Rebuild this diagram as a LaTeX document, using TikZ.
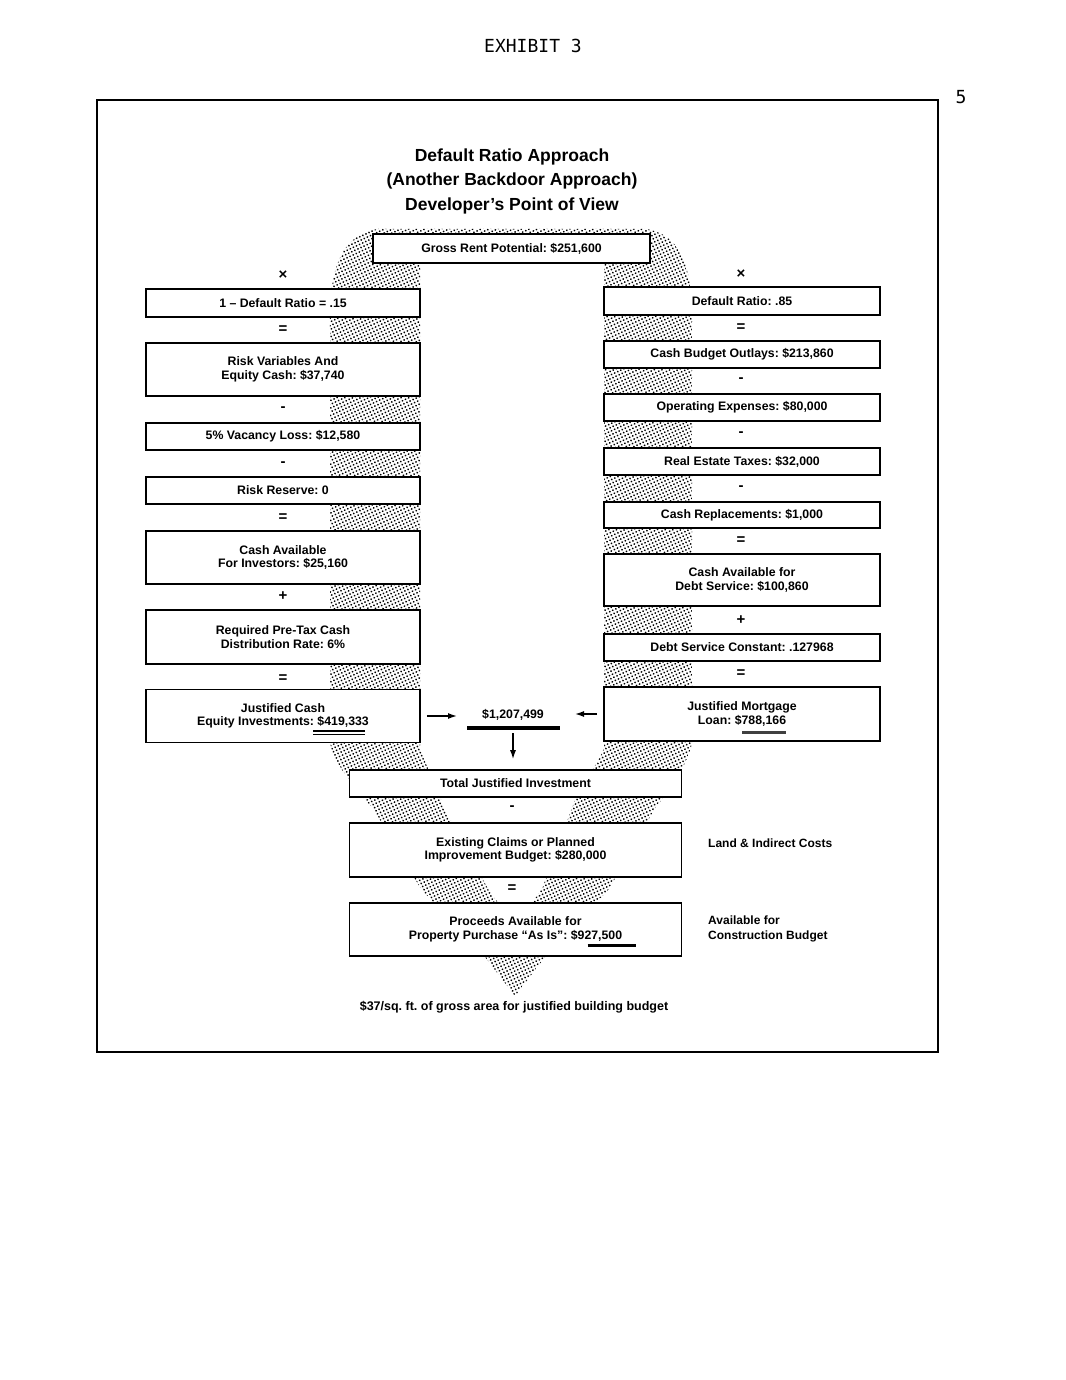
\documentclass[tikz,border=0pt]{standalone}
\usepackage{fontspec}
\setmainfont{Liberation Sans}
\newfontfamily\typew{DejaVu Sans Mono}
\usetikzlibrary{patterns.meta,arrows.meta,calc}
\frenchspacing
\begin{document}
\begin{tikzpicture}[x=1pt,y=-1pt,
  box/.style={draw,line width=1.6pt,fill=white,inner sep=0pt,align=center,
    font=\fontsize{12.3}{13.5}\selectfont\bfseries},
  lbox/.style={box,minimum width=274pt},
  rbox/.style={box,minimum width=276pt},
  cbox/.style={box,minimum width=332pt},
  op/.style={inner sep=0pt,font=\fontsize{15}{15}\selectfont\bfseries},
  lbl/.style={inner sep=0pt,align=left,anchor=west,font=\fontsize{12}{15}\selectfont\bfseries},
  arr/.style={line width=1.4pt,-{Latex[length=9pt,width=6pt]}},
  ul/.style={line width=1.2pt},
  bar/.style={line width=3pt},
  stip/.style={pattern={Dots[radius=1pt,distance=3.4pt,angle=25]},pattern color=black}]
\useasboundingbox (0,0) rectangle (1065,1380);

% header
\node[font=\typew\fontsize{18}{18}\selectfont,inner sep=0pt] (exh) at (533,46) {EXHIBIT 3};
\node[font=\typew\fontsize{18}{18}\selectfont,inner sep=0pt] (pg) at (961,97) {5};

% frame
\draw[line width=2.6pt] (97,100) rectangle (938,1052);

% title
\node[align=center,inner sep=0pt,font=\fontsize{17.5}{24.5}\selectfont\bfseries] (title) at (512,181)
  {Default Ratio Approach\\(Another Backdoor Approach)\\Developer’s Point of View};

% stippled funnel
\fill[stip,even odd rule]
  (330,330) .. controls (328,262) and (345,234) .. (378,229) -- (646,229)
  .. controls (678,234) and (694,262) .. (692,330)
  -- (692,742) .. controls (690,760) and (670,790) .. (655,808)
  -- (609,889) -- (545,957) -- (515,996) -- (485,957) -- (421,889) -- (373,808)
  .. controls (355,790) and (332,760) .. (330,742) -- cycle
  (420,263) -- (420,748) .. controls (425,765) and (437,785) .. (444,808)
  -- (488,889) -- (515,926) -- (542,889) -- (572,808)
  .. controls (580,785) and (598,765) .. (604,748) -- (604,263) -- cycle;

% top box
\node[box,minimum width=277pt,minimum height=29pt] (gross) at (511.5,248.5) {Gross Rent Potential: \$251,600};

% left column
\node[op] (oL0) at (283,275) {×};
\node[lbox,minimum height=28pt] (L1) at (283,303) {1 – Default Ratio = .15};
\node[op] (oL1) at (283,330) {=};
\node[lbox,minimum height=53pt] (L2) at (283,369.5) {Risk Variables And\\Equity Cash: \$37,740};
\node[op] (oL2) at (283,409) {-};
\node[lbox,minimum height=27pt] (L3) at (283,436.5) {5\% Vacancy Loss: \$12,580};
\node[op] (oL3) at (283,464) {-};
\node[lbox,minimum height=27pt] (L4) at (283,490.5) {Risk Reserve: 0};
\node[op] (oL4) at (283,518) {=};
\node[lbox,minimum height=53pt] (L5) at (283,557.5) {Cash Available\\For Investors: \$25,160};
\node[op] (oL5) at (283,596) {+};
\node[lbox,minimum height=54pt] (L6) at (283,637) {Required Pre-Tax Cash\\Distribution Rate: 6\%};
\node[op] (oL6) at (283,679) {=};
\node[lbox,minimum height=53pt] (L7) at (283,716) {Justified Cash\\Equity Investments: \$419,333};
\draw[ul] ($(L7.center)+(30,15)$) -- ($(L7.center)+(82,15)$);
\draw[ul] ($(L7.center)+(30,18.5)$) -- ($(L7.center)+(82,18.5)$);

% right column
\node[op] (oR0) at (741,274) {×};
\node[rbox,minimum height=28pt] (R1) at (742,301) {Default Ratio: .85};
\node[op] (oR1) at (741,328) {=};
\node[rbox,minimum height=27pt] (R2) at (742,354.5) {Cash Budget Outlays: \$213,860};
\node[op] (oR2) at (741,380) {-};
\node[rbox,minimum height=27pt] (R3) at (742,407.5) {Operating Expenses: \$80,000};
\node[op] (oR3) at (741,434) {-};
\node[rbox,minimum height=27pt] (R4) at (742,461.5) {Real Estate Taxes: \$32,000};
\node[op] (oR4) at (741,488) {-};
\node[rbox,minimum height=26pt] (R5) at (742,515) {Cash Replacements: \$1,000};
\node[op] (oR5) at (741,541) {=};
\node[rbox,minimum height=52pt] (R6) at (742,580) {Cash Available for\\Debt Service: \$100,860};
\node[op] (oR6) at (741,620) {+};
\node[rbox,minimum height=27pt] (R7) at (742,647.5) {Debt Service Constant: .127968};
\node[op] (oR7) at (741,674) {=};
\node[rbox,minimum height=54pt] (R8) at (742,714) {Justified Mortgage\\Loan: \$788,166};
\draw[bar,black!75] ($(R8.center)+(0,18)$) -- ($(R8.center)+(44,18)$);

% centre sum
\node[inner sep=0pt,font=\fontsize{12.3}{13.5}\selectfont\bfseries] (sum) at (513,715) {\$1,207,499};
\draw[line width=3.5pt] ($(sum.center)+(-46,13)$) -- ($(sum.center)+(47,13)$);
\coordinate (inL) at (457,716);
\coordinate (inR) at (575,714);
\coordinate (dn) at (513,733);
\draw[arr] ([xshift=6pt]L7.east) -- (L7.east -| inL);
\draw[arr] ([xshift=-6pt]R8.west) -- (R8.west -| inR);

% bottom boxes
\node[cbox,minimum height=27pt] (T1) at (515.5,783.5) {Total Justified Investment};
\draw[arr,shorten >=10pt] (dn) -- (dn |- T1.north);
\node[op] (oC1) at (512,808) {-};
\node[cbox,minimum height=54pt] (T2) at (515.5,850) {Existing Claims or Planned\\Improvement Budget: \$280,000};
\node[op] (oC2) at (512,889) {=};
\node[cbox,minimum height=53pt] (T3) at (515.5,929.5) {Proceeds Available for\\Property Purchase ``As Is'': \$927,500};
\draw[bar] ($(T3.center)+(72,15.5)$) -- ($(T3.center)+(120,15.5)$);

% side labels
\node[lbl] (land) at (708,843) {Land \& Indirect Costs};
\node[lbl] (avail) at (708,929) {Available for\\Construction Budget};

% caption
\node[inner sep=0pt,font=\fontsize{12.5}{14}\selectfont\bfseries] (cap) at (514,1007)
  {\$37/sq. ft. of gross area for justified building budget};
\end{tikzpicture}
\end{document}
